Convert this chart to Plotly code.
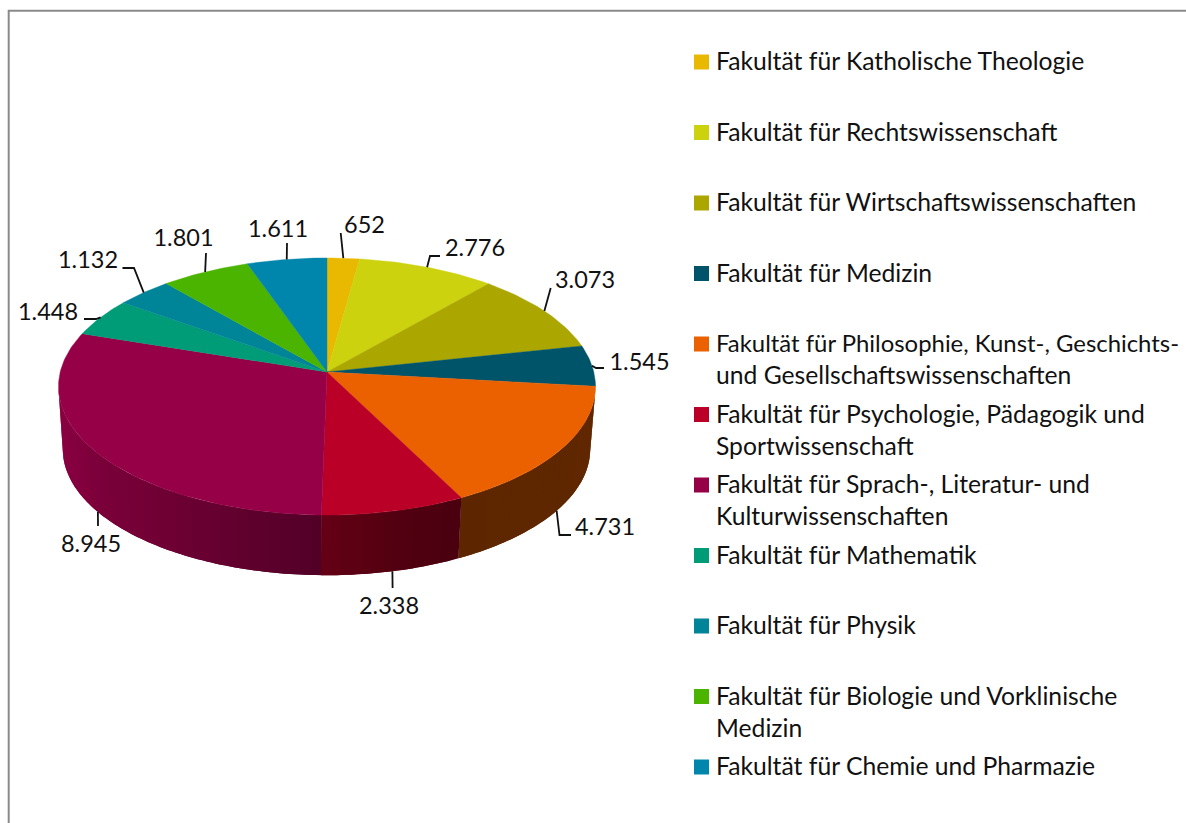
import numpy as np
import plotly.graph_objects as go

# ---- data ----
faculties = [
    ["Fakultät für Katholische Theologie"],
    ["Fakultät für Rechtswissenschaft"],
    ["Fakultät für Wirtschaftswissenschaften"],
    ["Fakultät für Medizin"],
    ["Fakultät für Philosophie, Kunst-, Geschichts-", "und Gesellschaftswissenschaften"],
    ["Fakultät für Psychologie, Pädagogik und", "Sportwissenschaft"],
    ["Fakultät für Sprach-, Literatur- und", "Kulturwissenschaften"],
    ["Fakultät für Mathematik"],
    ["Fakultät für Physik"],
    ["Fakultät für Biologie und Vorklinische", "Medizin"],
    ["Fakultät für Chemie und Pharmazie"],
]
values = [652, 2776, 3073, 1545, 4731, 2338, 8945, 1448, 1132, 1801, 1611]
colors = ["#E9B800", "#CCD20E", "#ABA700", "#005469", "#EB6100", "#BA0027",
          "#960047", "#009B77", "#008598", "#4BB400", "#0085AC"]

# ---- layout constants (pixel space of the page) ----
W, H = 1186, 823
K = 0.1128                       # perspective strength
TOP = dict(cx=327.0, cy=372.0, a=126.9, b=266.8)
BOT = dict(cx=326.5, cy=435.0, a=124.4, b=262.0)
VIS_FROM, VIS_TO = 96.5, 263.5   # visible part of the wall, degrees
SHADE_X = [60, 100, 200, 320, 390, 455, 600]
SHADE_F = [0.92, 0.82, 0.70, 0.55, 0.45, 0.40, 0.41]
# knees of the leader lines after the rim point
LEADER_KNEES = [[(340.7, 233)], [(430, 256), (440, 256)], [(550.7, 288)],
                [(596, 368), (604, 368)], [(559.5, 535), (571, 535)], [(392.6, 588)],
                [(98, 526)], [(96, 319), (84, 319)], [(134, 268), (122.5, 268)],
                [(206, 253)], [(287, 243)]]
LABEL_XY = [(364.5, 227), (475, 250), (585, 282), (639.5, 364), (605, 529), (389, 608),
            (91, 546), (48, 314), (88, 262), (183.5, 240), (278, 231)]
LEG_Y0, LEG_STEP, LEG_LINE = 64.0, 70.5, 32.0
LEG_MX, LEG_TX = 701.5, 716
FONT = "Lato"
FS_LABEL = 23.5
FS_LEGEND = 24.7
FS_LONG_LINE = 23.9   # the one line that would otherwise run off the page
LONG_LINE_CHARS = 44


def proj(theta_deg, g):
    t = np.radians(np.asarray(theta_deg, dtype=float))
    sx, cy_ = np.sin(t), np.cos(t)
    d = 1 + K * cy_
    return g["cx"] + g["b"] * sx / d, g["cy"] - g["a"] * cy_ / d


def shade(hexcol, f):
    r, g, b = (int(hexcol[i:i + 2], 16) for i in (1, 3, 5))
    return f"rgb({int(r * f)},{int(g * f)},{int(b * f)})"


total = sum(values)
edges = np.cumsum([0] + values) / total * 360.0
mids = (edges[:-1] + edges[1:]) / 2

fig = go.Figure()
skip = dict(showlegend=False, hoverinfo="skip")

# outer wall, in shaded strips; each strip overlaps the next so no seam shows
for i, col in enumerate(colors):
    lo, hi = max(edges[i], VIS_FROM), min(edges[i + 1], VIS_TO)
    if hi <= lo:
        continue
    n = max(1, int((hi - lo) / 2.0))
    ang = np.linspace(lo, hi, n + 1)
    for j in range(n):
        a0, a1 = ang[j], ang[j + 1]
        far = ang[min(j + 2, n)]
        seg = np.linspace(a0, far, 5)
        xt, yt = proj(seg, TOP)
        xb, yb = proj(seg[::-1], BOT)
        xs = np.r_[xt, xb, xt[0]]
        ys = np.r_[yt, yb, yt[0]]
        xm = float(proj((a0 + a1) / 2, TOP)[0])
        c = shade(col, float(np.interp(xm, SHADE_X, SHADE_F)))
        fig.add_trace(go.Scatter(x=xs, y=ys, mode="none", fill="toself", fillcolor=c, **skip))

# top face
for i, col in enumerate(colors):
    ang = np.linspace(edges[i], edges[i + 1], max(3, int(values[i] / total * 360)))
    xa, ya = proj(ang, TOP)
    xs = np.r_[TOP["cx"], xa, TOP["cx"]]
    ys = np.r_[TOP["cy"], ya, TOP["cy"]]
    fig.add_trace(go.Scatter(x=xs, y=ys, mode="lines", fill="toself", fillcolor=col,
                             line=dict(color=col, width=0.4),
                             name=" ".join(faculties[i]), hoverinfo="name", showlegend=False))

# leader lines
for i, knees in enumerate(LEADER_KNEES):
    on_wall = VIS_FROM < mids[i] < VIS_TO
    x0, y0 = proj(mids[i], BOT if on_wall else TOP)
    xs = [float(x0)] + [p[0] for p in knees]
    ys = [float(y0)] + [p[1] for p in knees]
    fig.add_trace(go.Scatter(x=xs, y=ys, mode="lines",
                             line=dict(color="#111111", width=1.8), **skip))

# value labels (German thousands separator)
fig.add_trace(go.Scatter(
    x=[p[0] for p in LABEL_XY], y=[p[1] for p in LABEL_XY], mode="text",
    text=[f"{v:,}".replace(",", ".") for v in values], textposition="middle center",
    textfont=dict(family=FONT, size=FS_LABEL, color="#111111"), cliponaxis=False, **skip))

# legend
leg_y = [LEG_Y0 + LEG_STEP * i for i in range(len(values))]
fig.add_trace(go.Scatter(x=[LEG_MX] * len(values), y=[y - 2 for y in leg_y], mode="markers",
                         marker=dict(symbol="square", size=15, color=colors, line=dict(width=0)),
                         **skip))
tx, ty, tt = [], [], []
for y, lines in zip(leg_y, faculties):
    for j, line in enumerate(lines):
        tx.append(LEG_TX)
        ty.append(y + j * LEG_LINE)
        tt.append(line)
sizes = [FS_LONG_LINE if len(t) >= LONG_LINE_CHARS else FS_LEGEND for t in tt]
fig.add_trace(go.Scatter(x=tx, y=ty, mode="text", text=tt, textposition="middle right",
                         textfont=dict(family=FONT, size=sizes, color="#111111"),
                         cliponaxis=False, **skip))

frame = dict(type="line", xref="x", yref="y", line=dict(color="#8a8a8a", width=2))
fig.update_layout(
    width=W, height=H, margin=dict(l=0, r=0, t=0, b=0),
    paper_bgcolor="white", plot_bgcolor="white", showlegend=False,
    xaxis=dict(range=[0, W], visible=False, fixedrange=True),
    yaxis=dict(range=[H, 0], visible=False, fixedrange=True),
    shapes=[dict(frame, x0=8.7, x1=8.7, y0=10, y1=H), dict(frame, x0=8, x1=W, y0=10.7, y1=10.7)],
)
fig.write_html("out.html", config={"displayModeBar": False},
               post_script="document.body.style.margin='0';document.body.style.overflow='hidden';")
